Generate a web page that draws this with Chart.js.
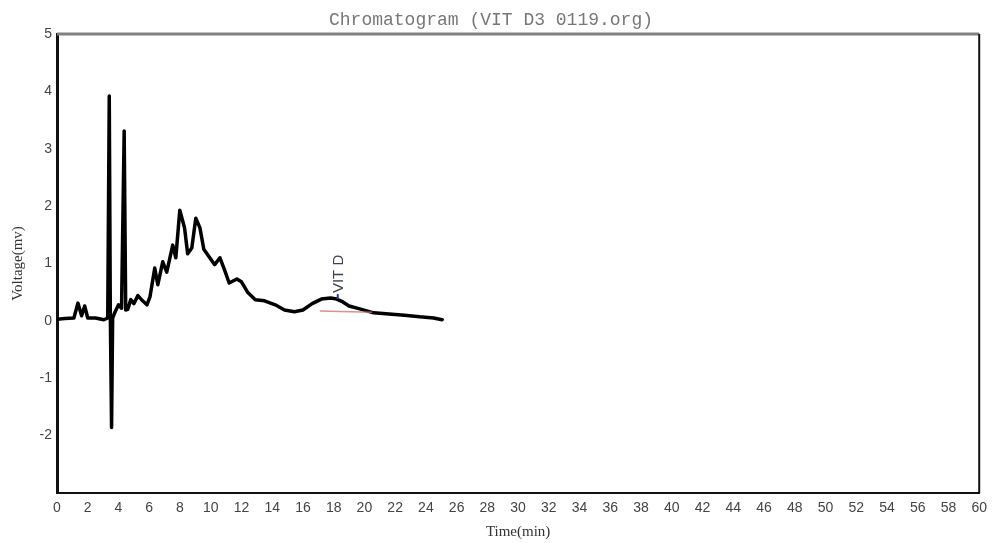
<!DOCTYPE html>
<html>
<head>
<meta charset="utf-8">
<script src="https://cdn.jsdelivr.net/npm/chart.js@4/dist/chart.umd.min.js"></script>
<style>
  html, body { margin: 0; padding: 0; background: #fff; }
  #wrap { width: 994px; height: 543px; }
</style>
</head>
<body>
<div id="wrap"><canvas id="chromChart"></canvas></div>
<script>
// Chromatogram trace (time in minutes, voltage in mV)
var timeMin = [0, 0.5, 1.1, 1.36, 1.6, 1.8, 2.0, 2.5, 3.05, 3.3, 3.4, 3.47, 3.55, 3.62, 3.77, 4.0, 4.2,
  4.37, 4.47, 4.6, 4.8, 5.0, 5.26, 5.5, 5.85, 6.05, 6.36, 6.56, 6.88, 7.14, 7.53, 7.73, 7.99, 8.3,
  8.5, 8.77, 9.03, 9.3, 9.55, 9.94, 10.26, 10.6, 10.9, 11.2, 11.7, 12.0, 12.4, 12.9, 13.5, 14.2,
  14.8, 15.45, 16.0, 16.6, 17.2, 17.8, 18.2, 18.6, 19.0, 19.7, 20.6, 21.6, 22.6, 23.6, 24.5, 25.06];
var voltage = [0.03, 0.04, 0.05, 0.31, 0.09, 0.26, 0.05, 0.05, 0.02, 0.05, 3.92, 0.1, -1.86, 0.05, 0.15, 0.28, 0.22,
  3.31, 0.19, 0.2, 0.37, 0.3, 0.44, 0.37, 0.28, 0.42, 0.92, 0.63, 1.03, 0.85, 1.32, 1.1, 1.93, 1.62,
  1.17, 1.27, 1.79, 1.62, 1.25, 1.1, 0.98, 1.1, 0.89, 0.66, 0.73, 0.68, 0.5, 0.37, 0.35, 0.28,
  0.19, 0.16, 0.19, 0.3, 0.38, 0.4, 0.38, 0.33, 0.26, 0.21, 0.14, 0.12, 0.1, 0.07, 0.05, 0.02];

// Integration baseline under the VIT D peak
var baseTime = [17.1, 20.5];
var baseVolt = [0.17, 0.15];

// Named peak
var peakName = 'VIT D';
var peakTime = 18.2;
var peakVolt = 0.38;

var yTicks = [5, 4, 3, 2, 1, 0, -1, -2, -3];

var trace = timeMin.map(function (t, i) { return { x: t, y: voltage[i] }; });
var baseline = baseTime.map(function (t, i) { return { x: t, y: baseVolt[i] }; });

// frame, title and peak label
var decorations = {
  id: 'decorations',
  afterDraw: function (chart) {
    var c = chart.ctx, a = chart.chartArea;
    c.save();
    // top border (grey) and right border (black)
    c.strokeStyle = '#808080';
    c.lineWidth = 3;
    c.beginPath(); c.moveTo(a.left, a.top); c.lineTo(a.right, a.top); c.stroke();
    c.strokeStyle = '#111';
    c.lineWidth = 2;
    c.beginPath(); c.moveTo(a.right, a.top); c.lineTo(a.right, a.bottom); c.stroke();

    // title
    c.fillStyle = '#777';
    c.font = '18px "Liberation Mono", monospace';
    c.textAlign = 'center';
    c.textBaseline = 'middle';
    c.fillText('Chromatogram (VIT D3 0119.org)', 491, 20);

    // peak label, rotated
    var xs = chart.scales.x, ys = chart.scales.y;
    var px = xs.getPixelForValue(peakTime) + 2;
    var py = ys.getPixelForValue(peakVolt) - 4;
    c.strokeStyle = '#2a3a8a';
    c.lineWidth = 2;
    c.beginPath(); c.moveTo(px - 1, py + 4); c.lineTo(px - 1, py - 1); c.stroke();
    c.translate(px, py);
    c.rotate(-Math.PI / 2);
    c.fillStyle = '#3c4250';
    c.font = '15px "Liberation Sans", Arial, sans-serif';
    c.textAlign = 'left';
    c.textBaseline = 'middle';
    c.fillText(peakName, 2, 0);
    c.restore();
  }
};

var ctx = document.getElementById('chromChart').getContext('2d');
var chromChart = new Chart(ctx, {
  type: 'line',
  data: {
    datasets: [{
      data: baseline,
      borderColor: 'rgba(200, 120, 120, 0.8)',
      borderWidth: 1.5,
      pointRadius: 0,
      tension: 0
    }, {
      data: trace,
      borderColor: '#000',
      borderWidth: 3.5,
      borderJoinStyle: 'round',
      borderCapStyle: 'round',
      pointRadius: 0,
      tension: 0
    }]
  },
  plugins: [decorations],
  options: {
    responsive: true,
    maintainAspectRatio: false,
    animation: false,
    layout: { padding: { top: 34, right: 13, left: 0, bottom: 0 } },
    plugins: {
      legend: { display: false },
      title: { display: false },
      tooltip: { enabled: false }
    },
    scales: {
      x: {
        type: 'linear',
        min: 0,
        max: 60,
        afterFit: function (s) { s.height = 50; },
        grid: { display: false, drawTicks: false },
        border: { display: true, color: '#111', width: 2, dash: [8, 2] },
        ticks: {
          stepSize: 2,
          autoSkip: false,
          maxRotation: 0,
          padding: 7,
          color: '#444',
          font: { family: '"Liberation Sans", Arial, sans-serif', size: 14 }
        },
        title: {
          display: true,
          text: 'Time(min)',
          color: '#333',
          padding: { top: 2, bottom: 2 },
          font: { family: '"Liberation Serif", "Times New Roman", serif', size: 15 }
        }
      },
      y: {
        min: -3,
        max: 5,
        afterFit: function (s) { s.width = 57; },
        afterBuildTicks: function (s) {
          s.ticks = yTicks.map(function (v) { return { value: v }; });
        },
        grid: { display: false, drawTicks: false },
        border: { display: true, color: '#111', width: 3 },
        ticks: {
          padding: 5,
          color: '#444',
          callback: function (v) { return v === -3 ? '' : v; },
          font: { family: '"Liberation Sans", Arial, sans-serif', size: 14 }
        },
        title: {
          display: true,
          text: 'Voltage(mv)',
          color: '#333',
          padding: { top: 9, bottom: 0 },
          font: { family: '"Liberation Serif", "Times New Roman", serif', size: 15 }
        }
      }
    }
  }
});
</script>
</body>
</html>
